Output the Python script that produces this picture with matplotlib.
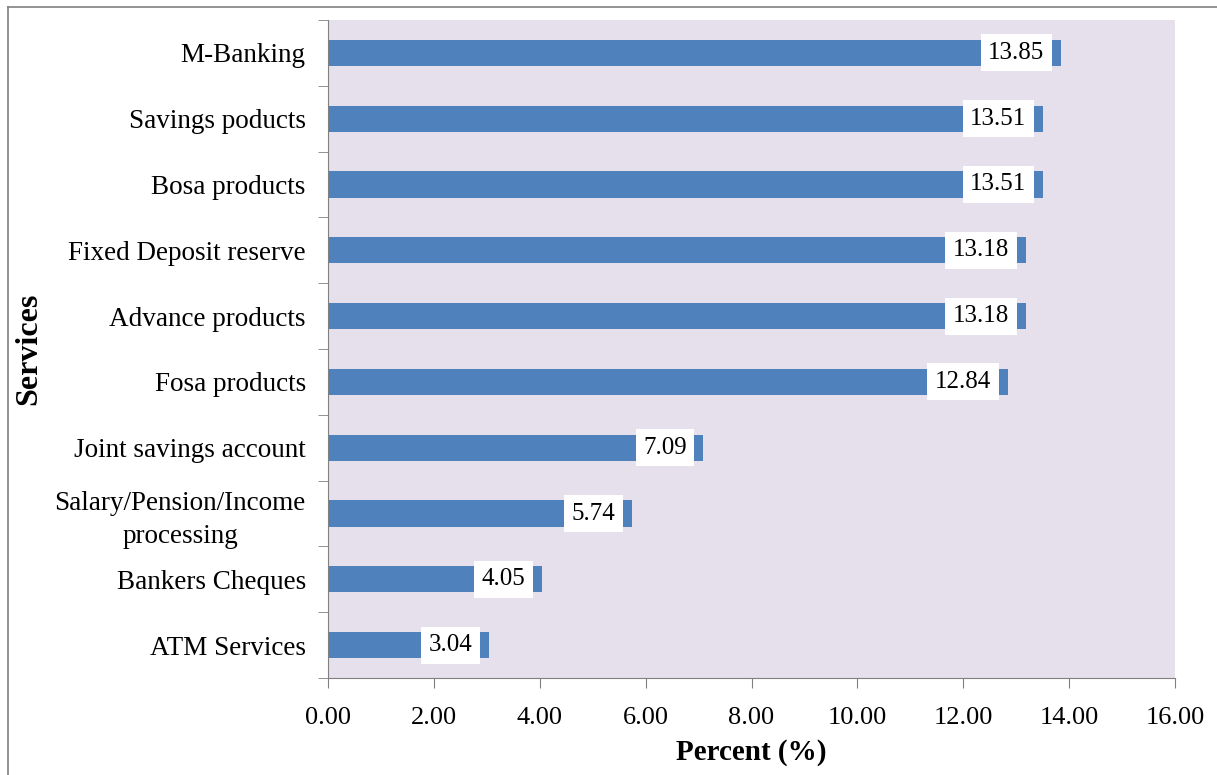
import matplotlib.pyplot as plt
import numpy as np

services = ['ATM Services', 'Bankers Cheques', 'Salary/Pension/Income\nprocessing',
            'Joint savings account', 'Fosa products', 'Advance products',
            'Fixed Deposit reserve', 'Bosa products', 'Savings poducts', 'M-Banking']
percent = [3.04, 4.05, 5.74, 7.09, 12.84, 13.18, 13.18, 13.51, 13.51, 13.85]
xticks = [0, 2, 4, 6, 8, 10, 12, 14, 16]

plt.rcParams['font.family'] = ['Liberation Serif', 'DejaVu Serif']

fig = plt.figure(figsize=(12.17, 7.75), dpi=100)
ax = fig.add_axes([328/1217, 1 - 678/775, (1175 - 328)/1217, (678 - 20)/775])
ax.set_facecolor('#E5E0EC')

y = np.arange(len(services))
ax.barh(y, percent, height=0.4, color='#4F81BD')
for yi, v in zip(y, percent):
    ax.annotate('%.2f' % v, (v, yi), xytext=(-12, 0), textcoords='offset points',
                ha='right', va='center', fontsize=18,
                bbox=dict(boxstyle='square,pad=0.3', fc='white', ec='none'))

ax.set_xlim(0, 16)
ax.set_ylim(-0.5, len(services) - 0.5)
ax.set_xticks(xticks)
ax.set_xticklabels(['%.2f' % t for t in xticks], fontsize=19)
ax.set_yticks(y)
ax.set_yticklabels(services, fontsize=19.5, multialignment='center', linespacing=1.4)
ax.set_yticks(np.arange(-0.5, len(services)), minor=True)
ax.tick_params(axis='y', which='major', length=0, pad=16)
ax.tick_params(axis='y', which='minor', length=7, color='#808080')
ax.tick_params(axis='x', length=7, color='#808080', pad=14)
for s in ['top', 'right']:
    ax.spines[s].set_visible(False)
for s in ['left', 'bottom']:
    ax.spines[s].set_color('#808080')

ax.set_xlabel('Percent (%)', fontsize=21, fontweight='bold', labelpad=7)
ax.set_ylabel('Services', fontsize=23, fontweight='bold', labelpad=8)

# chart frame
fig.add_artist(plt.Line2D([8/1217, 8/1217], [0, 1 - 7/775], color='#808080', lw=1.2))
fig.add_artist(plt.Line2D([8/1217, 1], [1 - 7/775, 1 - 7/775], color='#808080', lw=1.2))

fig.savefig('out.png', dpi=100)
